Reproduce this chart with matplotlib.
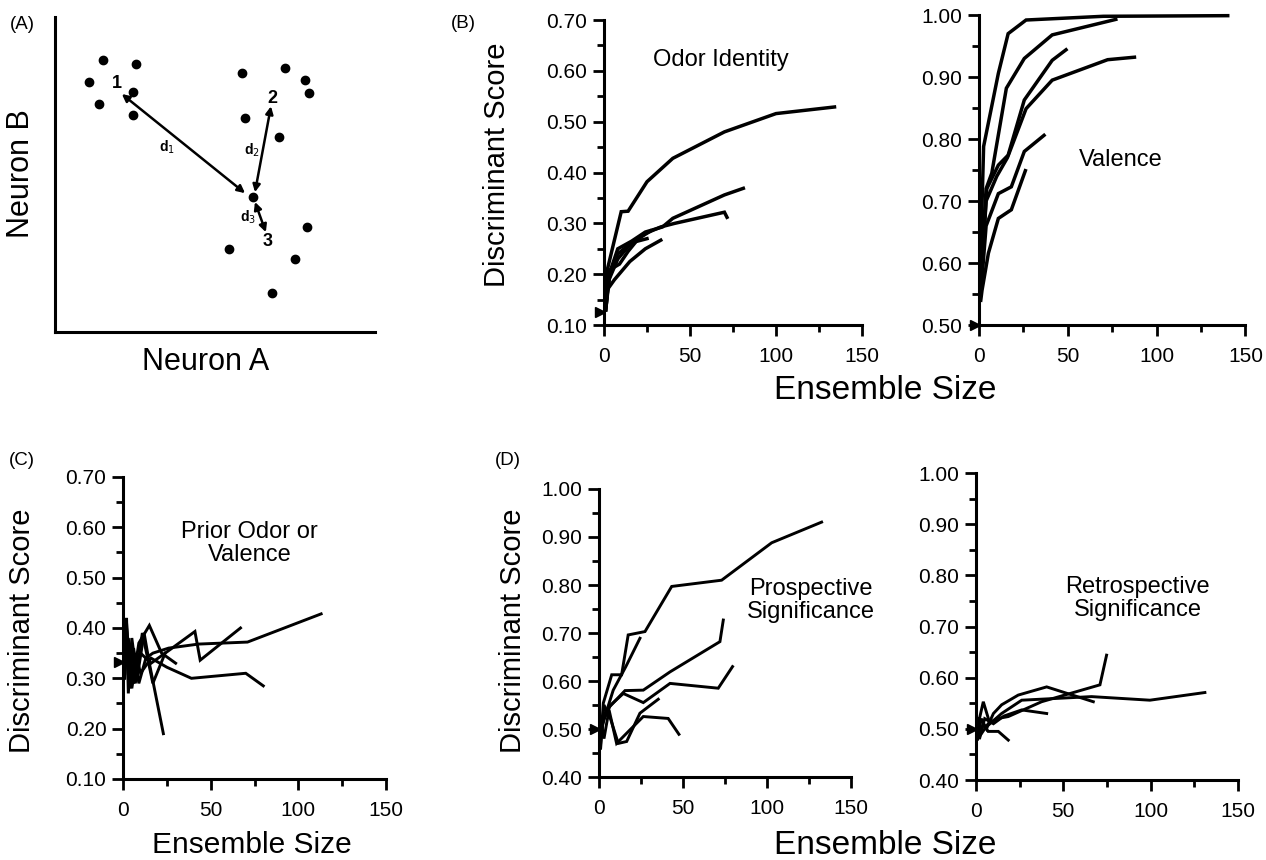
import matplotlib
matplotlib.use('Agg')
import matplotlib.pyplot as plt
from matplotlib.ticker import MultipleLocator, FormatStrFormatter

plt.rcParams['font.family'] = ['Liberation Sans', 'DejaVu Sans']

# ---- panel A: schematic of trial points in a 2-neuron space ----
neuron_a = [0.150, 0.253, 0.106, 0.244, 0.138, 0.244, 0.584, 0.719, 0.781, 0.794,
            0.594, 0.700, 0.619, 0.788, 0.544, 0.750, 0.678]
neuron_b = [0.863, 0.851, 0.794, 0.762, 0.724, 0.689, 0.822, 0.838, 0.800, 0.759,
            0.679, 0.619, 0.429, 0.333, 0.263, 0.232, 0.124]
class_labels = ['1', '2', '3']
class_x = [0.194, 0.678, 0.666]
class_y = [0.790, 0.743, 0.286]
dist_labels = ['1', '2', '3']
dist_start_x = [0.209, 0.675, 0.625]
dist_start_y = [0.756, 0.717, 0.413]
dist_end_x = [0.594, 0.625, 0.659]
dist_end_y = [0.441, 0.444, 0.317]
dist_label_x = [0.350, 0.616, 0.603]
dist_label_y = [0.587, 0.578, 0.365]

# ---- panel B: odor identity ----
odor_sizes = [[1, 2, 10, 14, 25, 40, 70, 100, 134],
              [1, 3, 8, 16, 24, 34, 40, 70, 81],
              [1, 3, 8, 15, 24, 33, 41, 70, 71.5],
              [1, 2, 6, 15, 24, 33],
              [1, 3, 8, 16, 25],
              [1, 4, 9, 14, 20, 27]]
odor_scores = [[0.14, 0.21, 0.323, 0.324, 0.382, 0.428, 0.48, 0.516, 0.529],
               [0.13, 0.20, 0.25, 0.265, 0.283, 0.293, 0.31, 0.356, 0.369],
               [0.13, 0.19, 0.23, 0.258, 0.28, 0.293, 0.30, 0.322, 0.312],
               [0.14, 0.17, 0.189, 0.225, 0.25, 0.267],
               [0.13, 0.20, 0.24, 0.262, 0.27],
               [0.15, 0.21, 0.22, 0.245, 0.27, 0.285]]

# ---- panel B: valence ----
valence_sizes = [[1, 2.6, 10.9, 16.4, 26.5, 70, 140],
                 [1, 4, 7.2, 15.4, 25.5, 41.2, 77],
                 [1, 4.4, 10.9, 16.4, 25.5, 41.2, 49],
                 [1, 4, 10, 16, 26.5, 41.2, 72.4, 87.5],
                 [1, 4, 10.9, 18.2, 25.5, 36.6],
                 [1, 1.7, 5.3, 10.9, 18.2, 26.1]]
valence_scores = [[0.62, 0.788, 0.906, 0.97, 0.992, 0.998, 0.999],
                  [0.58, 0.72, 0.745, 0.882, 0.93, 0.968, 0.993],
                  [0.57, 0.72, 0.758, 0.774, 0.863, 0.927, 0.944],
                  [0.56, 0.70, 0.74, 0.77, 0.849, 0.895, 0.928, 0.932],
                  [0.55, 0.66, 0.712, 0.723, 0.78, 0.806],
                  [0.54, 0.556, 0.616, 0.672, 0.686, 0.749]]

# ---- panel C: prior odor or valence ----
prior_sizes = [[1, 2, 4, 6, 9, 13, 17, 26, 43, 71, 113],
               [1, 3, 6, 10, 16, 28, 41, 44, 67],
               [1, 2, 5, 9, 15, 22, 30],
               [1, 2, 4, 7, 10, 16, 25, 39, 70, 80],
               [1, 2, 3, 5, 8, 12, 15, 23],
               [1, 2, 4, 7, 11, 17, 24]]
prior_scores = [[0.33, 0.41, 0.31, 0.36, 0.29, 0.34, 0.35, 0.36, 0.368, 0.372, 0.428],
                [0.34, 0.38, 0.29, 0.35, 0.33, 0.36, 0.393, 0.336, 0.40],
                [0.31, 0.40, 0.28, 0.37, 0.405, 0.35, 0.33],
                [0.32, 0.37, 0.28, 0.35, 0.31, 0.34, 0.322, 0.30, 0.31, 0.285],
                [0.33, 0.42, 0.27, 0.38, 0.30, 0.39, 0.33, 0.19],
                [0.30, 0.36, 0.33, 0.29, 0.39, 0.29, 0.35]]

# ---- panel D: prospective significance ----
prosp_sizes = [[1, 2.6, 7.6, 13.5, 17.4, 27.4, 43.3, 73, 102.8, 132.5],
               [1, 3, 8.5, 16, 24.4],
               [1, 3, 6.5, 15.5, 26.4, 42.3, 72, 74],
               [1, 3, 7, 14.5, 26.4, 42.3, 71, 79.5],
               [1, 3, 7, 11.5, 16.5, 24.4, 35.3],
               [1, 3, 6, 10.5, 18.4, 26.4, 41.2, 47.6]]
prosp_scores = [[0.47, 0.554, 0.613, 0.613, 0.696, 0.703, 0.797, 0.81, 0.888, 0.931],
                [0.50, 0.52, 0.581, 0.63, 0.689],
                [0.49, 0.52, 0.547, 0.58, 0.581, 0.619, 0.682, 0.727],
                [0.48, 0.53, 0.55, 0.574, 0.555, 0.595, 0.585, 0.630],
                [0.46, 0.55, 0.52, 0.47, 0.474, 0.533, 0.562],
                [0.52, 0.48, 0.54, 0.47, 0.498, 0.526, 0.522, 0.489]]

# ---- panel D: retrospective significance ----
retro_sizes = [[1, 2, 4.2, 8, 14.7, 26.2, 66.2, 99.6, 131.1],
               [1, 3, 7, 12, 18.5, 37.6, 71, 74.8],
               [1, 3, 6, 10, 14.7, 24.2, 40.5, 67.2],
               [1, 2, 5, 10, 16, 26.2, 40.5],
               [1, 2, 4.2, 7, 12.8, 18.5]]
retro_scores = [[0.49, 0.52, 0.553, 0.51, 0.53, 0.556, 0.563, 0.556, 0.571],
                [0.50, 0.49, 0.51, 0.52, 0.524, 0.553, 0.586, 0.644],
                [0.48, 0.52, 0.50, 0.53, 0.547, 0.566, 0.582, 0.553],
                [0.51, 0.48, 0.52, 0.51, 0.525, 0.537, 0.530],
                [0.52, 0.49, 0.51, 0.495, 0.495, 0.478]]

chance_levels = {'odor': 0.125, 'valence': 0.5, 'prior': 1 / 3, 'prosp': 0.5, 'retro': 0.5}


def style_axis(ax, ylo, yhi):
    for side in ['top', 'right']:
        ax.spines[side].set_visible(False)
    for side in ['left', 'bottom']:
        ax.spines[side].set_linewidth(2.2)
    ax.set_xlim(0, 150)
    ax.set_ylim(ylo, yhi)
    ax.xaxis.set_major_locator(MultipleLocator(50))
    ax.xaxis.set_minor_locator(MultipleLocator(25))
    ax.yaxis.set_major_locator(MultipleLocator(0.1))
    ax.yaxis.set_minor_locator(MultipleLocator(0.05))
    ax.yaxis.set_major_formatter(FormatStrFormatter('%.2f'))
    ax.tick_params(which='major', length=8, width=2, labelsize=15, pad=4)
    ax.tick_params(axis='x', which='major', pad=8)
    ax.tick_params(which='minor', length=5, width=2)


def draw_curves(ax, sizes, scores, chance, lw):
    for xs, ys in zip(sizes, scores):
        ax.plot(xs, ys, color='black', lw=lw, solid_joinstyle='miter', clip_on=False)
    ax.plot([-2.5], [chance], marker='>', color='black', markersize=7, clip_on=False)


def show_schematic(fig):
    ax = fig.add_axes([0.0434, 0.614, 0.2528, 0.366])
    for side in ['top', 'right']:
        ax.spines[side].set_visible(False)
    for side in ['left', 'bottom']:
        ax.spines[side].set_linewidth(2.2)
    ax.set_xlim(0, 1)
    ax.set_ylim(0, 1)
    ax.set_xticks([])
    ax.set_yticks([])
    ax.plot(neuron_a, neuron_b, 'o', color='black', markersize=6)
    for lab, x, y in zip(class_labels, class_x, class_y):
        ax.text(x, y, lab, fontsize=13, fontweight='bold', ha='center', va='center')
    for i in range(len(dist_labels)):
        ax.annotate('', xy=(dist_end_x[i], dist_end_y[i]),
                    xytext=(dist_start_x[i], dist_start_y[i]),
                    arrowprops=dict(arrowstyle='<|-|>', color='black', lw=1.8,
                                    mutation_scale=11, shrinkA=0, shrinkB=0))
        ax.text(dist_label_x[i], dist_label_y[i], r'd$_{%s}$' % dist_labels[i],
                fontsize=10, fontweight='bold', ha='center', va='center')
    return ax


def show_layout():
    fig = plt.figure(figsize=(12.66, 8.60), dpi=100)
    show_schematic(fig)

    ax = fig.add_axes([0.4771, 0.622, 0.2038, 0.3547])
    style_axis(ax, 0.10, 0.70)
    draw_curves(ax, odor_sizes, odor_scores, chance_levels['odor'], 2.5)
    ax.text(68, 0.621, 'Odor Identity', fontsize=17, ha='center', va='center')

    ax = fig.add_axes([0.7733, 0.622, 0.2105, 0.3605])
    style_axis(ax, 0.50, 1.00)
    draw_curves(ax, valence_sizes, valence_scores, chance_levels['valence'], 2.5)
    ax.text(80, 0.766, 'Valence', fontsize=17, ha='center', va='center')

    ax = fig.add_axes([0.0972, 0.0942, 0.2077, 0.3512])
    style_axis(ax, 0.10, 0.70)
    draw_curves(ax, prior_sizes, prior_scores, chance_levels['prior'], 2.1)
    ax.text(72, 0.567, 'Prior Odor or\nValence', fontsize=17, ha='center', va='center',
            linespacing=1.05)

    ax = fig.add_axes([0.4731, 0.0965, 0.1991, 0.3349])
    style_axis(ax, 0.40, 1.00)
    draw_curves(ax, prosp_sizes, prosp_scores, chance_levels['prosp'], 2.1)
    ax.text(126, 0.767, 'Prospective\nSignificance', fontsize=17, ha='center', va='center',
            linespacing=1.05)

    ax = fig.add_axes([0.7709, 0.093, 0.2069, 0.357])
    style_axis(ax, 0.40, 1.00)
    draw_curves(ax, retro_sizes, retro_scores, chance_levels['retro'], 2.1)
    ax.text(92.7, 0.754, 'Retrospective\nSignificance', fontsize=17, ha='center', va='center',
            linespacing=1.05)

    # axis titles and panel letters
    fig.text(0.0166, 0.7977, 'Neuron B', fontsize=22, rotation=90, ha='center', va='center')
    fig.text(0.1627, 0.579, 'Neuron A', fontsize=22, ha='center', va='center')
    fig.text(0.3926, 0.808, 'Discriminant Score', fontsize=21, rotation=90, ha='center', va='center')
    fig.text(0.699, 0.5465, 'Ensemble Size', fontsize=24, ha='center', va='center')
    fig.text(0.0174, 0.2663, 'Discriminant Score', fontsize=21, rotation=90, ha='center', va='center')
    fig.text(0.199, 0.0174, 'Ensemble Size', fontsize=21.5, ha='center', va='center')
    fig.text(0.4052, 0.2663, 'Discriminant Score', fontsize=21, rotation=90, ha='center', va='center')
    fig.text(0.699, 0.0174, 'Ensemble Size', fontsize=24, ha='center', va='center')
    for lab, x, y in [('(A)', 0.0174, 0.971), ('(B)', 0.3657, 0.973),
                      ('(C)', 0.0174, 0.465), ('(D)', 0.4013, 0.464)]:
        fig.text(x, y, lab, fontsize=13.5, ha='center', va='center')

    fig.savefig('out.png', dpi=100)
    plt.close(fig)


if __name__ == "__main__":
    show_layout()
